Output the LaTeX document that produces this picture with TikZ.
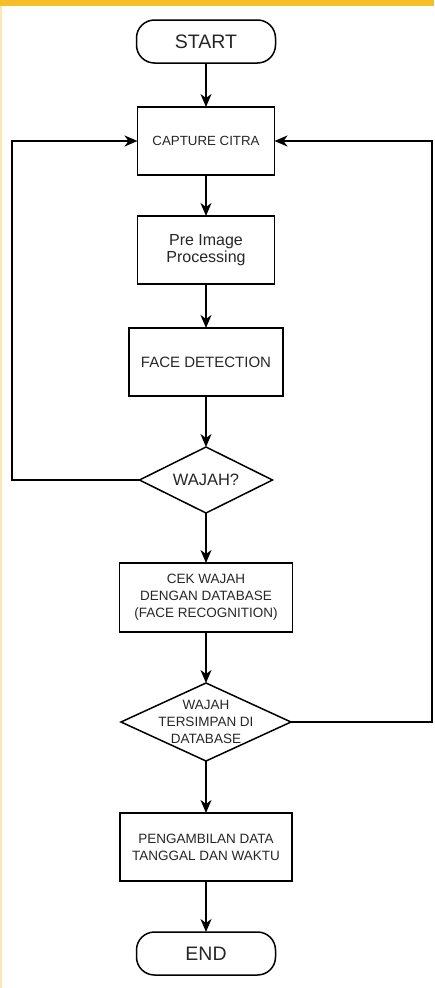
\documentclass[tikz,border=0pt]{standalone}
\usepackage{fontspec}
\setmainfont{Liberation Sans}
\usetikzlibrary{arrows.meta,positioning,shapes.geometric}
\definecolor{bandyellow}{RGB}{246,190,40}
\newcommand{\fsz}[1]{\fontsize{#1}{17}\selectfont}

\begin{document}
\begin{tikzpicture}[x=1pt,y=1pt,->,>={Stealth[length=13pt,width=11pt,inset=4pt]},line width=1.5pt,node distance=51pt]
  \tikzstyle{every node}=[text=black!85,outer sep=0pt]
  \tikzstyle{terminal}=[draw,rounded corners=18pt,minimum width=139pt,minimum height=43pt,font=\fsz{19.5}]
  \tikzstyle{process}=[draw,minimum height=68pt,align=center,font=\fsz{13.5}]
  \tikzstyle{decision}=[draw,diamond,inner sep=0pt]

  \useasboundingbox (0,0) rectangle (434,-988);
  \fill[bandyellow] (0,0) rectangle (434,-6);
  \fill[bandyellow!35] (0,-6) rectangle (2,-988);

  \node[terminal] (start) at (206,-41.5) {START};
  \node[process]  (capture) [below=44pt of start,minimum width=137pt,font=\fsz{13.3}] {CAPTURE CITRA};
  \node[process]  (pre)     [below=41pt of capture,minimum width=137pt,font=\fsz{16}] {Pre Image\\Processing};
  \node[process]  (face)    [below=44pt of pre,minimum width=154pt,font=\fsz{15}]     {FACE DETECTION};
  \node[decision] (wajah)   [below=of face,minimum width=133pt,minimum height=66pt,
                             label={[font=\fsz{16.5}]center:WAJAH?}] {};
  \node[process]  (cek)     [below=50pt of wajah,minimum width=173pt,minimum height=69pt]
                            {CEK WAJAH\\DENGAN DATABASE\\(FACE RECOGNITION)};
  \node[decision] (simpan)  [below=of cek,minimum width=170pt,minimum height=78pt,
                             label={[font=\fsz{13.5},align=center]center:WAJAH\\TERSIMPAN DI\\DATABASE}] {};
  \node[process]  (ambil)   [below=52pt of simpan,minimum width=172pt]
                            {PENGAMBILAN DATA\\TANGGAL DAN WAKTU};
  \node[terminal] (end)     [below=of ambil] {END};

  \coordinate (loopL) at (12,-141);
  \coordinate (loopR) at (432,-141);

  \path (start)   edge (capture)
        (capture) edge (pre)
        (pre)     edge (face)
        (face)    edge (wajah)
        (wajah)   edge (cek)
        (cek)     edge (simpan)
        (simpan)  edge (ambil)
        (ambil)   edge (end);

  \draw (wajah.west) -- (wajah.west -| loopL) |- (capture.west);
  \draw (simpan.east) -- (simpan.east -| loopR) |- (capture.east);
\end{tikzpicture}
\end{document}
